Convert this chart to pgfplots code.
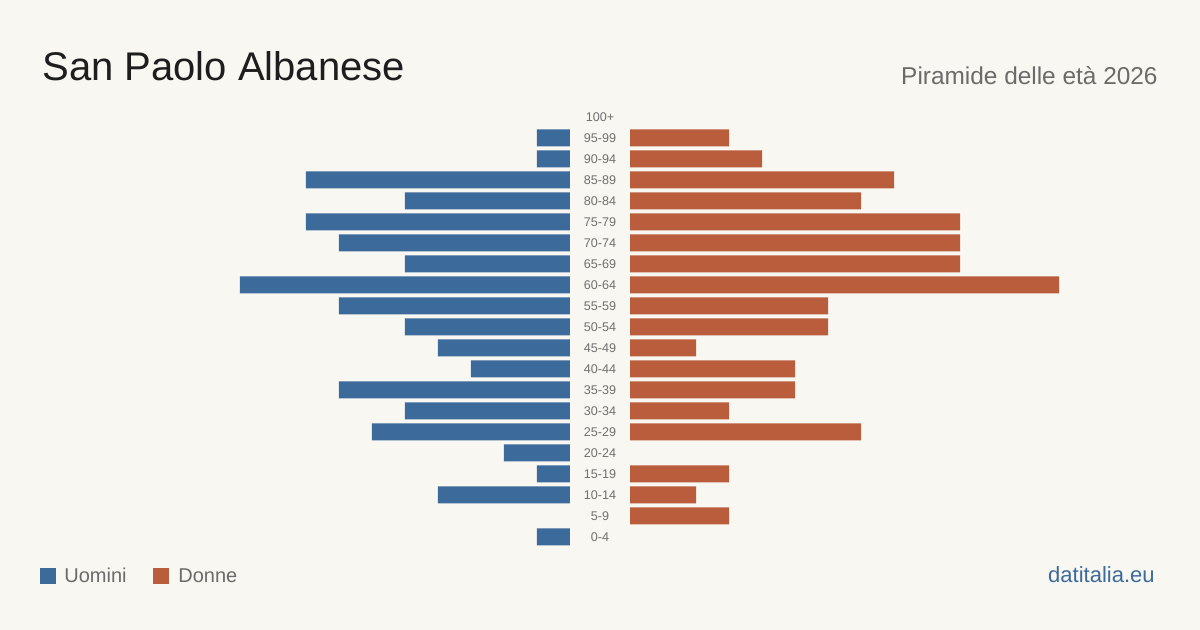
\documentclass[border=0pt]{standalone}
\usepackage{pgfplots}
\pgfplotsset{compat=1.18}
\usepackage{fontspec}
\setmainfont{Liberation Sans}
\definecolor{bg}{HTML}{F9F7F2}
\definecolor{men}{HTML}{3B6A9B}
\definecolor{women}{HTML}{B95D3C}
\definecolor{titlec}{HTML}{1E1E1E}
\definecolor{subc}{HTML}{6B6B6B}
\definecolor{lab}{HTML}{707070}
\begin{document}
\begin{tikzpicture}
\fill[bg] (0,0) rectangle (600pt,315pt);
% title
\node[anchor=base west, inner sep=0, text=titlec, font=\fontsize{20}{24}\selectfont] at (21pt,274.5pt) {San Paolo Albanese};
\node[anchor=base east, inner sep=0, text=subc, font=\fontsize{12.2}{15}\selectfont] at (579pt,272.5pt) {Piramide delle età 2026};
% men
\begin{axis}[
  at={(120pt,41.25pt)}, anchor=south west,
  width=165pt, height=220.5pt, scale only axis,
  xmin=0, xmax=10, x dir=reverse,
  ymin=-0.5, ymax=20.5,
  hide axis,
  xbar, bar width=8.5pt,
]
% age groups with zero men (5-9, 100+) omitted
\addplot[fill=men, draw=none] coordinates {
(1,0) (4,2) (1,3) (2,4) (6,5) (5,6) (7,7) (3,8) (4,9)
(5,10) (7,11) (10,12) (5,13) (7,14) (8,15) (5,16) (8,17) (1,18) (1,19)};
\end{axis}
% women
\begin{axis}[
  at={(315pt,41.25pt)}, anchor=south west,
  width=214.5pt, height=220.5pt, scale only axis,
  xmin=0, xmax=13,
  ymin=-0.5, ymax=20.5,
  axis line style={draw=none},
  xtick=\empty,
  ytick={0,...,20},
  yticklabels={0-4,5-9,10-14,15-19,20-24,25-29,30-34,35-39,40-44,45-49,50-54,55-59,60-64,65-69,70-74,75-79,80-84,85-89,90-94,95-99,100+},
  major tick length=0pt,
  yticklabel style={anchor=center, xshift=-15pt, text=lab, font=\fontsize{6.3}{8}\selectfont},
  xbar, bar width=8.5pt,
]
% age groups with zero women (0-4, 20-24, 100+) omitted
\addplot[fill=women, draw=none] coordinates {
(3,1) (2,2) (3,3) (7,5) (3,6) (5,7) (5,8) (2,9)
(6,10) (6,11) (13,12) (10,13) (10,14) (10,15) (7,16) (8,17) (4,18) (3,19)};
\end{axis}
% legend
\fill[men] (20pt,23pt) rectangle (28pt,31pt);
\node[anchor=base west, inner sep=0, text=subc, font=\fontsize{10}{12}\selectfont] at (32pt,23.5pt) {Uomini};
\fill[women] (76.5pt,23pt) rectangle (84.5pt,31pt);
\node[anchor=base west, inner sep=0, text=subc, font=\fontsize{10}{12}\selectfont] at (89pt,23.5pt) {Donne};
\node[anchor=base east, inner sep=0, text=men, font=\fontsize{11}{13}\selectfont] at (577.5pt,23.5pt) {datitalia.eu};
\end{tikzpicture}
\end{document}
